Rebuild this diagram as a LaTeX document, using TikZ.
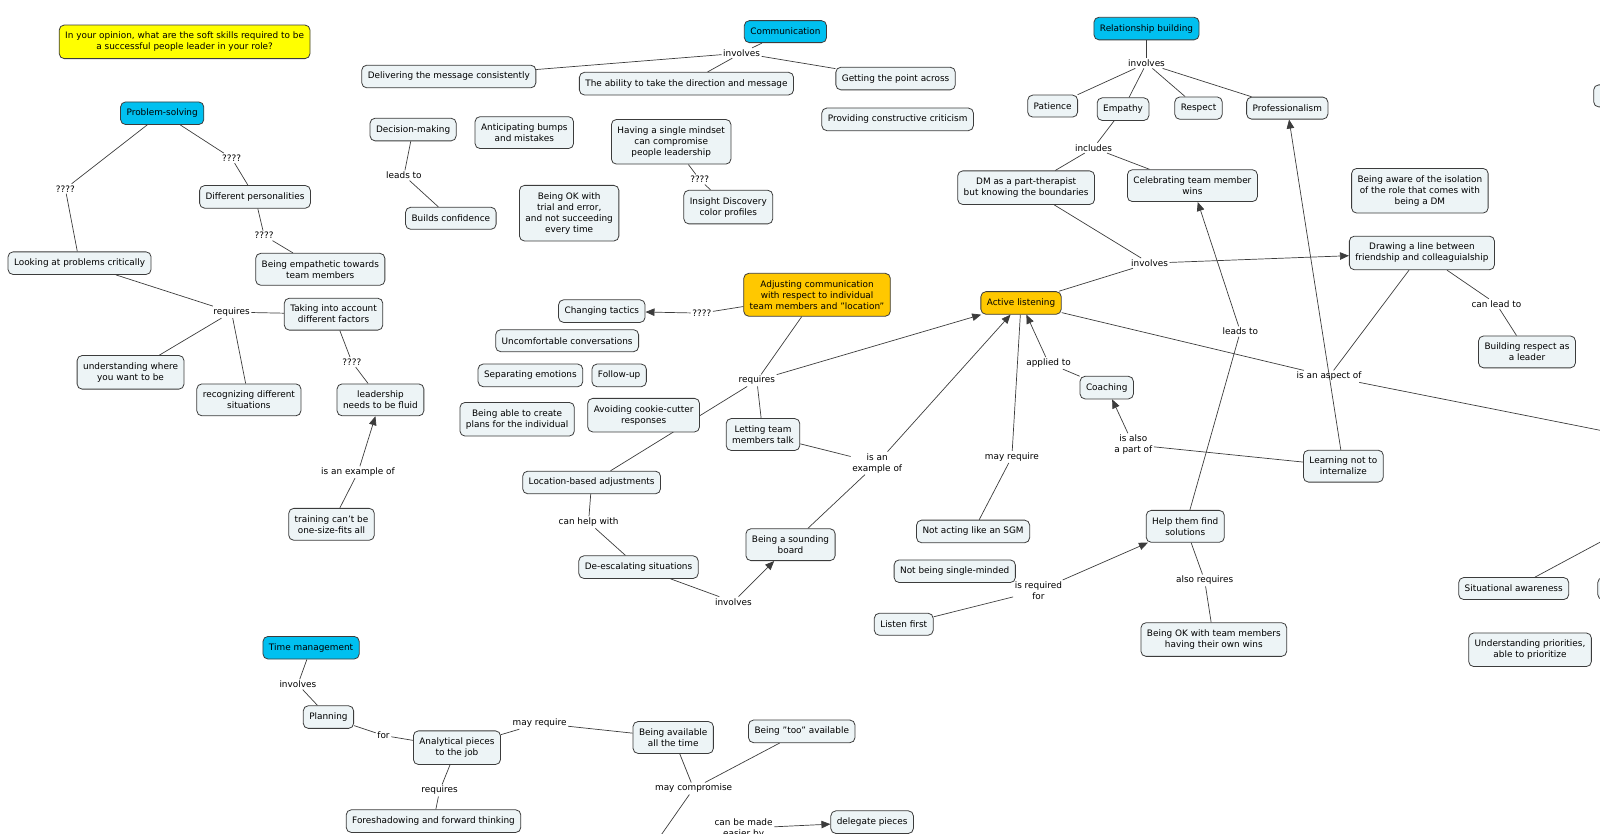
\documentclass[tikz,border=0pt]{standalone}
\usepackage{fontspec}
\setmainfont{DejaVu Sans}
\usetikzlibrary{arrows.meta}
\definecolor{cbox}{RGB}{237,244,246}
\definecolor{cblue}{RGB}{0,192,240}
\definecolor{cgold}{RGB}{255,200,0}
\definecolor{cyell}{RGB}{255,255,0}
\definecolor{cline}{RGB}{60,60,60}
\pgfdeclarelayer{bg}
\pgfsetlayers{bg,main}

\begin{document}
\begin{tikzpicture}[x=1.02pt, y=-1.02pt,
  every node/.style={font=\fontsize{8.9}{11}\selectfont},
  concept/.style={draw=cline, line width=0.8pt, fill=cbox, rounded corners=5pt, align=center, inner xsep=6pt, inner ysep=7pt, minimum height=22pt},
  topic/.style={concept, fill=cblue},
  focus/.style={concept, fill=cgold},
  link/.style={inner sep=1.5pt, align=center},
  conn/.style={draw=cline, line width=0.7pt},
  arr/.style={conn, -{Triangle[length=9pt,width=7.5pt]}}]
  \useasboundingbox (0,0) rectangle (1568.6,816.7);

  % question
  \node (question) [concept, fill=cyell] at (181,41) {In your opinion, what are the soft skills required to be\\a successful people leader in your role?};

  % communication
  \node (comm) [topic] at (770,31) {Communication};
  \node (commInv) [link] at (727,52) {involves};
  \node (deliver) [concept] at (440,75) {Delivering the message consistently};
  \node (ability) [concept] at (673,82) {The ability to take the direction and message};
  \node (point) [concept] at (878,77) {Getting the point across};
  \node (critic) [concept] at (880,117) {Providing constructive criticism};
  \node (decision) [concept] at (405,127) {Decision-making};
  \node (leadsA) [link] at (396,172) {leads to};
  \node (confid) [concept] at (442,214) {Builds confidence};
  \node (bumps) [concept] at (514,130) {Anticipating bumps\\and mistakes};
  \node (mindset) [concept] at (658,139) {Having a single mindset\\can compromise\\people leadership};
  \node (mindQ) [link] at (686,176) {????};
  \node (insight) [concept] at (714,203) {Insight Discovery\\color profiles};
  \node (trial) [concept] at (558,209) {Being OK with\\trial and error,\\and not succeeding\\every time};

  % problem-solving
  \node (probsolv) [topic] at (159,111) {Problem-solving};
  \node (psQa) [link] at (64,185) {????};
  \node (psQb) [link] at (227,155) {????};
  \node (critical) [concept] at (78,258) {Looking at problems critically};
  \node (personal) [concept] at (250,193) {Different personalities};
  \node (persQ) [link] at (259,231) {????};
  \node (empath) [concept] at (314,264) {Being empathetic towards\\team members};
  \node (psReq) [link] at (227,306) {requires};
  \node (factors) [concept] at (327,308) {Taking into account\\different factors};
  \node (where) [concept] at (128,365) {understanding where\\you want to be};
  \node (recog) [concept] at (244,392) {recognizing different\\situations};
  \node (factQ) [link] at (345,355) {????};
  \node (fluid) [concept] at (373,392) {leadership\\needs to be fluid};
  \node (exampleA) [link] at (351,463) {is an example of};
  \node (training) [concept] at (325,514) {training can't be\\one-size-fits all};

  % time management
  \node (timeman) [topic] at (305,635) {Time management};
  \node (tmInv) [link] at (292,671) {involves};
  \node (planning) [concept] at (322,703) {Planning};
  \node (forL) [link] at (376,721) {for};
  \node (analyt) [concept] at (448,733) {Analytical pieces\\to the job};
  \node (mayReqA) [link] at (529,709) {may require};
  \node (anReq) [link] at (431,775) {requires};
  \node (foresh) [concept] at (425,805) {Foreshadowing and forward thinking};
  \node (avail) [concept] at (660,723) {Being available\\all the time};
  \node (tooavail) [concept] at (786,717) {Being "too" available};
  \node (compr) [link] at (680,773) {may compromise};
  \coordinate (comprOut) at (629,846);
  \node (easier) [link] at (729,812) {can be made\\easier by};
  \node (delegate) [concept] at (855,806) {delegate pieces};

  % adjusting communication
  \node (adjust) [focus] at (801,289) {Adjusting communication\\with respect to individual\\team members and "location"};
  \node (adjQ) [link] at (688,307) {????};
  \node (tactics) [concept] at (590,305) {Changing tactics};
  \node (uncomf) [concept] at (556,334) {Uncomfortable conversations};
  \node (separ) [concept] at (520,368) {Separating emotions};
  \node (follow) [concept] at (607,368) {Follow-up};
  \node (plans) [concept] at (507,411) {Being able to create\\plans for the individual};
  \node (cookie) [concept] at (631,407) {Avoiding cookie-cutter\\responses};
  \node (adjReq) [link] at (742,373) {requires};
  \node (letting) [concept] at (748,426) {Letting team\\members talk};
  \node (exampleB) [link] at (860,454) {is an\\example of};
  \node (location) [concept] at (580,473) {Location-based adjustments};
  \node (helpWith) [link] at (577,512) {can help with};
  \node (deesc) [concept] at (626,556) {De-escalating situations};
  \node (deInv) [link] at (719,590) {involves};
  \node (sounding) [concept] at (775,534) {Being a sounding\\board};

  % active listening
  \node (active) [focus] at (1001,297) {Active listening};
  \node (dmInv) [link] at (1127,258) {involves};
  \node (aspect) [link] at (1303,369) {is an aspect of};
  \coordinate (aspectOut) at (1640,436);
  \node (leadsB) [link] at (1216,325) {leads to};
  \node (appliedL) [link] at (1028,356) {applied to};
  \node (coaching) [concept] at (1085,380) {Coaching};
  \node (partOf) [link] at (1111,436) {is also\\a part of};
  \node (internal) [concept] at (1317,457) {Learning not to\\internalize};
  \node (mayReqB) [link] at (992,448) {may require};
  \node (sgm) [concept] at (954,521) {Not acting like an SGM};
  \node (single) [concept] at (936,560) {Not being single-minded};
  \node (reqFor) [link] at (1018,579) {is required\\for};
  \node (listen) [concept] at (886,612) {Listen first};
  \node (helpsol) [concept] at (1162,516) {Help them find\\solutions};
  \node (alsoReq) [link] at (1181,569) {also requires};
  \node (ownwins) [concept] at (1190,627) {Being OK with team members\\having their own wins};

  % relationship building
  \node (relation) [topic] at (1124,28) {Relationship building};
  \node (relInv) [link] at (1124,62) {involves};
  \node (patience) [concept] at (1032,104) {Patience};
  \node (empathy) [concept] at (1101,107) {Empathy};
  \node (respect) [concept] at (1175,106) {Respect};
  \node (profess) [concept] at (1262,106) {Professionalism};
  \node (includes) [link] at (1072,145) {includes};
  \node (therapist) [concept] at (1006,184) {DM as a part-therapist\\but knowing the boundaries};
  \node (celebr) [concept] at (1169,182) {Celebrating team member\\wins};
  \node (isolation) [concept] at (1392,187) {Being aware of the isolation\\of the role that comes with\\being a DM};
  \node (drawline) [concept] at (1394,248) {Drawing a line between\\friendship and colleaguialship};
  \node (canLead) [link] at (1467,298) {can lead to};
  \node (respectL) [concept] at (1497,345) {Building respect as\\a leader};
  \node (situ) [concept] at (1484,577) {Situational awareness};
  \coordinate (situOut) at (1620,504);
  \node (prior) [concept] at (1500,637) {Understanding priorities,\\able to prioritize};
  \node (edgeA) [concept, anchor=west, minimum width=60pt] at (1562,94) {};
  \node (edgeB) [concept, anchor=west, minimum width=60pt] at (1566,577) {};

  \begin{pgfonlayer}{bg}
    \draw[conn] (comm) -- (commInv);
    \foreach \n in {deliver, ability, point} \draw[conn] (commInv) -- (\n);
    \draw[conn] (decision) -- (leadsA);
    \draw[conn] (leadsA) -- (confid);
    \draw[conn] (mindset) -- (mindQ);
    \draw[conn] (mindQ) -- (insight);

    \draw[conn] (probsolv) -- (psQa);
    \draw[conn] (psQa) -- (critical);
    \draw[conn] (probsolv) -- (psQb);
    \draw[conn] (psQb) -- (personal);
    \draw[conn] (personal) -- (persQ);
    \draw[conn] (persQ) -- (empath);
    \draw[conn] (critical) -- (psReq);
    \foreach \n in {factors, where, recog} \draw[conn] (psReq) -- (\n);
    \draw[conn] (factors) -- (factQ);
    \draw[conn] (factQ) -- (fluid);
    \draw[conn] (training) -- (exampleA);
    \draw[arr] (exampleA) -- (fluid);

    \draw[conn] (timeman) -- (tmInv);
    \draw[conn] (tmInv) -- (planning);
    \draw[conn] (planning) -- (forL);
    \draw[conn] (forL) -- (analyt);
    \draw[conn] (analyt) -- (mayReqA);
    \draw[conn] (mayReqA) -- (avail);
    \draw[conn] (analyt) -- (anReq);
    \draw[conn] (anReq) -- (foresh);
    \foreach \n in {avail, tooavail} \draw[conn] (\n) -- (compr);
    \draw[conn] (compr) -- (comprOut);
    \draw[arr] (easier) -- (delegate);

    \draw[conn] (adjust) -- (adjQ);
    \draw[arr] (adjQ) -- (tactics);
    \draw[conn] (adjust) -- (adjReq);
    \foreach \n in {location, letting} \draw[conn] (adjReq) -- (\n);
    \draw[arr] (adjReq) -- (active);
    \foreach \n in {letting, sounding} \draw[conn] (\n) -- (exampleB);
    \draw[arr] (exampleB) -- (active);
    \draw[conn] (location) -- (helpWith);
    \draw[conn] (helpWith) -- (deesc);
    \draw[conn] (deesc) -- (deInv);
    \draw[arr] (deInv) -- (sounding);

    \draw[conn] (therapist) -- (dmInv);
    \draw[conn] (dmInv) -- (active);
    \draw[arr] (dmInv) -- (drawline);
    \draw[conn] (active) -- (aspect);
    \draw[conn] (aspect) -- (drawline);
    \draw[conn] (aspect) -- (aspectOut);
    \draw[conn] (helpsol) -- (leadsB);
    \draw[arr] (leadsB) -- (celebr);
    \draw[arr] (internal) -- (profess);
    \draw[conn] (coaching) -- (appliedL);
    \draw[arr] (appliedL) -- (active);
    \draw[conn] (internal) -- (partOf);
    \draw[arr] (partOf) -- (coaching);
    \draw[conn] (active) -- (mayReqB);
    \draw[conn] (mayReqB) -- (sgm);
    \draw[conn] (listen) -- (reqFor);
    \draw[arr] (reqFor) -- (helpsol);
    \draw[conn] (helpsol) -- (alsoReq);
    \draw[conn] (alsoReq) -- (ownwins);

    \draw[conn] (relation) -- (relInv);
    \foreach \n in {patience, empathy, respect, profess} \draw[conn] (relInv) -- (\n);
    \draw[conn] (empathy) -- (includes);
    \foreach \n in {therapist, celebr} \draw[conn] (includes) -- (\n);
    \draw[conn] (drawline) -- (canLead);
    \draw[conn] (canLead) -- (respectL);
    \draw[conn] (situ) -- (situOut);
  \end{pgfonlayer}
\end{tikzpicture}
\end{document}
